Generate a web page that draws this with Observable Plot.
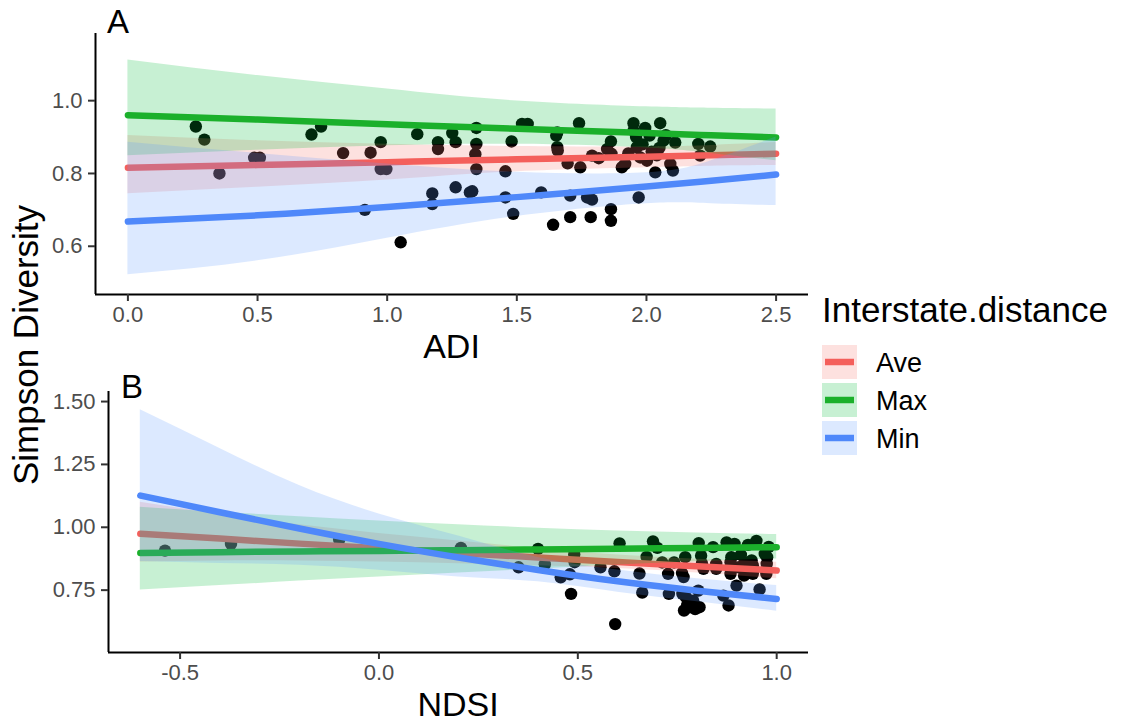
<!DOCTYPE html>
<html><head><meta charset="utf-8">
<script src="https://cdn.jsdelivr.net/npm/d3@7"></script>
<script src="https://cdn.jsdelivr.net/npm/@observablehq/plot@0.6"></script>
<style>
body{margin:0;background:#fff;font-family:"Liberation Sans",Arial,Helvetica,sans-serif;}
#wrap{position:relative;width:1121px;height:723px;overflow:hidden;background:#fff;}
#wrap > svg, #wrap > div{position:absolute;}
</style></head><body><div id="wrap"></div>
<script>
// ---------- data ----------
const groups = ["Ave", "Max", "Min"];
const lineColors = ["#F45F5B", "#1BB02B", "#4F88FA"];
const fillColors = ["#F8766D", "#00BA38", "#619CFF"];

// Panel A (ADI)
const adiGrid = [0, 0.5, 1.0, 1.5, 2.0, 2.25, 2.5];
const adiAveFit = [0.816, 0.823, 0.831, 0.839, 0.846, 0.850, 0.854];
const adiAveHi  = [0.904, 0.890, 0.880, 0.874, 0.873, 0.877, 0.885];
const adiAveLo  = [0.744, 0.762, 0.782, 0.805, 0.816, 0.820, 0.822];
const adiMaxFit = [0.960, 0.948, 0.935, 0.923, 0.911, 0.905, 0.899];
const adiMaxHi  = [1.112, 1.069, 1.032, 0.999, 0.983, 0.979, 0.977];
const adiMaxLo  = [0.849, 0.864, 0.876, 0.880, 0.870, 0.855, 0.835];
const adiMinFit = [0.668, 0.685, 0.708, 0.735, 0.764, 0.780, 0.797];
const adiMinHi  = [0.886, 0.855, 0.826, 0.803, 0.802, 0.835, 0.900];
const adiMinLo  = [0.522, 0.560, 0.622, 0.682, 0.717, 0.717, 0.712];
const adiX = [0.262,0.295,0.353,0.487,0.509,0.708,0.745,0.830,0.936,0.914,0.975,0.975,0.997,1.052,1.116,1.174,1.174,1.196,1.196,1.251,1.264,1.264,1.319,1.344,1.344,1.340,1.344,1.328,1.456,1.456,1.480,1.486,1.520,1.542,1.594,1.640,1.656,1.652,1.656,1.658,1.696,1.706,1.706,1.740,1.745,1.771,1.790,1.785,1.790,1.816,1.848,1.863,1.865,1.863,1.863,1.905,1.918,1.950,1.950,1.963,1.970,1.976,1.995,2.012,2.002,2.034,2.053,2.066,2.092,2.102,2.111,2.200,2.207,2.246,1.985,2.020,2.040,1.960,2.050,1.930,2.075];
const adiY = [0.929,0.893,0.800,0.843,0.843,0.907,0.929,0.856,0.857,0.700,0.886,0.812,0.812,0.611,0.908,0.745,0.716,0.886,0.867,0.911,0.886,0.762,0.748,0.925,0.881,0.853,0.812,0.751,0.806,0.734,0.888,0.689,0.936,0.936,0.748,0.659,0.913,0.904,0.872,0.863,0.828,0.739,0.680,0.938,0.817,0.734,0.728,0.680,0.849,0.842,0.867,0.888,0.854,0.702,0.670,0.817,0.826,0.938,0.918,0.872,0.734,0.844,0.925,0.904,0.835,0.803,0.938,0.890,0.826,0.808,0.885,0.881,0.849,0.874,0.880,0.860,0.850,0.900,0.870,0.855,0.905];

// Panel B (NDSI)
const ndsiGrid = [-0.6, -0.4, -0.2, 0, 0.2, 0.4, 0.6, 0.8, 1.0];
const ndsiAveFit = [0.974, 0.955, 0.935, 0.917, 0.898, 0.880, 0.862, 0.845, 0.828];
const ndsiAveHi  = [1.100, 1.052, 1.010, 0.975, 0.945, 0.915, 0.890, 0.873, 0.861];
const ndsiAveLo  = [0.862, 0.866, 0.866, 0.862, 0.855, 0.847, 0.836, 0.818, 0.795];
const ndsiMaxFit = [0.898, 0.901, 0.904, 0.906, 0.909, 0.912, 0.915, 0.918, 0.921];
const ndsiMaxHi  = [1.080, 1.060, 1.042, 1.025, 1.010, 0.996, 0.985, 0.977, 0.971];
const ndsiMaxLo  = [0.751, 0.768, 0.786, 0.802, 0.818, 0.834, 0.850, 0.863, 0.874];
const ndsiMinFit = [1.126, 1.060, 0.995, 0.934, 0.880, 0.830, 0.785, 0.748, 0.715];
const ndsiMinHi  = [1.467, 1.313, 1.166, 1.053, 0.965, 0.880, 0.830, 0.795, 0.768];
const ndsiMinLo  = [0.864, 0.856, 0.849, 0.829, 0.802, 0.783, 0.742, 0.704, 0.666];
const ndsiX = [-0.538,-0.372,-0.100,0.206,0.351,0.400,0.417,0.457,0.480,0.483,0.491,0.492,0.557,0.592,0.594,0.605,0.655,0.662,0.673,0.689,0.700,0.712,0.727,0.729,0.742,0.762,0.766,0.770,0.763,0.772,0.767,0.781,0.790,0.806,0.803,0.775,0.795,0.804,0.810,0.812,0.816,0.840,0.848,0.848,0.866,0.874,0.879,0.884,0.884,0.886,0.894,0.899,0.905,0.910,0.918,0.920,0.928,0.930,0.937,0.940,0.940,0.949,0.957,0.970,0.974,0.975,0.976,0.980];
const ndsiY = [0.907,0.934,0.950,0.918,0.841,0.914,0.853,0.801,0.813,0.735,0.892,0.861,0.841,0.825,0.615,0.936,0.816,0.740,0.882,0.944,0.918,0.860,0.815,0.735,0.860,0.818,0.802,0.881,0.735,0.722,0.669,0.682,0.708,0.682,0.748,0.690,0.675,0.937,0.887,0.856,0.835,0.921,0.854,0.835,0.728,0.940,0.689,0.861,0.815,0.881,0.934,0.768,0.841,0.890,0.808,0.860,0.930,0.836,0.868,0.848,0.815,0.946,0.753,0.894,0.815,0.854,0.881,0.922];

// axes
const adiXDomain = [-0.125, 2.625];
const adiYDomain = [0.4675, 1.1845];
const adiXTicks = [0, 0.5, 1.0, 1.5, 2.0, 2.5];
const adiYTicks = [0.6, 0.8, 1.0];
const ndsiXDomain = [-0.68, 1.08];
const ndsiYDomain = [0.502, 1.540];
const ndsiXTicks = [-0.5, 0, 0.5, 1.0];
const ndsiYTicks = [0.75, 1.00, 1.25, 1.50];

const FONT = '"Liberation Sans", Arial, Helvetica, sans-serif';
const TICK_FS = 22;

function panel(cfg) {
  const pts = cfg.px.map((x, i) => ({x, y: cfg.py[i]}));
  const marks = [
    Plot.dot(pts, {x: "x", y: "y", r: 6.2, fill: "black", stroke: null})
  ];
  groups.forEach((g, i) => {
    const rows = cfg.grid.map((x, j) => ({x, fit: cfg.fits[i][j], lo: cfg.los[i][j], hi: cfg.his[i][j]}));
    marks.push(Plot.areaY(rows, {x: "x", y1: "lo", y2: "hi", fill: fillColors[i], fillOpacity: 0.22, curve: "natural"}));
    marks.push(Plot.line(rows, {x: "x", y: "fit", stroke: lineColors[i], strokeWidth: 6.5, curve: "natural"}));
  });
  marks.push(Plot.ruleX([cfg.xDomain[0]], {stroke: "black", strokeWidth: 2}));
  marks.push(Plot.ruleY([cfg.yDomain[0]], {stroke: "black", strokeWidth: 2}));
  marks.push(Plot.axisX({ticks: cfg.xTicks, tickFormat: d => d.toFixed(1), tickSize: 7, tickPadding: 5, fontSize: TICK_FS, fill: "#4D4D4D", stroke: "#333333", strokeWidth: 2, label: null}));
  marks.push(Plot.axisY({ticks: cfg.yTicks, tickFormat: d => d.toFixed(cfg.yDigits), tickSize: 7, tickPadding: 6, fontSize: TICK_FS, fill: "#4D4D4D", stroke: "#333333", strokeWidth: 2, label: null}));
  const svg = Plot.plot({
    width: cfg.width, height: cfg.height,
    marginLeft: cfg.ml, marginRight: cfg.mr, marginTop: cfg.mt, marginBottom: cfg.mb,
    x: {domain: cfg.xDomain},
    y: {domain: cfg.yDomain},
    style: {fontFamily: FONT, background: "transparent", overflow: "visible"},
    marks
  });
  // make sure tick labels get the intended size
  svg.querySelectorAll("text").forEach(t => {
    t.setAttribute("font-size", TICK_FS);
    t.style.fontSize = TICK_FS + "px";
  });
  svg.querySelectorAll("g").forEach(g => {
    if (g.hasAttribute("font-size")) { g.setAttribute("font-size", TICK_FS); g.style.fontSize = TICK_FS + "px"; }
  });
  svg.style.left = cfg.left + "px";
  svg.style.top = cfg.top + "px";
  return svg;
}

const wrap = document.getElementById("wrap");
wrap.appendChild(panel({
  px: adiX, py: adiY, grid: adiGrid,
  fits: [adiAveFit, adiMaxFit, adiMinFit], his: [adiAveHi, adiMaxHi, adiMinHi], los: [adiAveLo, adiMaxLo, adiMinLo],
  xDomain: adiXDomain, yDomain: adiYDomain, xTicks: adiXTicks, yTicks: adiYTicks, yDigits: 1,
  width: 815, height: 372, ml: 95, mr: 7, mt: 33, mb: 78, left: 0, top: 0
}));
wrap.appendChild(panel({
  px: ndsiX, py: ndsiY, grid: ndsiGrid,
  fits: [ndsiAveFit, ndsiMaxFit, ndsiMinFit], his: [ndsiAveHi, ndsiMaxHi, ndsiMinHi], los: [ndsiAveLo, ndsiMaxLo, ndsiMinLo],
  xDomain: ndsiXDomain, yDomain: ndsiYDomain, xTicks: ndsiXTicks, yTicks: ndsiYTicks, yDigits: 2,
  width: 815, height: 351, ml: 108, mr: 7, mt: 19, mb: 71, left: 0, top: 372
}));

// ---------- titles + legend overlay ----------
const ov = d3.create("svg").attr("width", 1121).attr("height", 723)
  .style("left", "0px").style("top", "0px").style("pointer-events", "none")
  .style("font-family", FONT);
const txt = (s, x, y, size, anchor = "start") =>
  ov.append("text").attr("x", x).attr("y", y).attr("font-size", size).attr("fill", "#000")
    .attr("text-anchor", anchor).text(s);
txt("A", 107, 33, 33);
txt("B", 121, 398, 33);
txt("ADI", 451.5, 358, 34, "middle");
txt("NDSI", 458, 716, 34, "middle");
ov.append("text").attr("transform", "translate(38,345) rotate(-90)").attr("text-anchor", "middle")
  .attr("font-size", 35).attr("fill", "#000").text("Simpson Diversity");
txt("Interstate.distance", 822, 322, 35);
groups.forEach((g, i) => {
  const y0 = 345 + i * 38;
  ov.append("rect").attr("x", 822).attr("y", y0).attr("width", 35).attr("height", 34)
    .attr("fill", fillColors[i]).attr("fill-opacity", 0.22);
  ov.append("line").attr("x1", 825).attr("x2", 854).attr("y1", y0 + 17).attr("y2", y0 + 17)
    .attr("stroke", lineColors[i]).attr("stroke-width", 6.5);
  txt(g, 876, y0 + 26.5, 27);
});
wrap.appendChild(ov.node());
</script></body></html>
